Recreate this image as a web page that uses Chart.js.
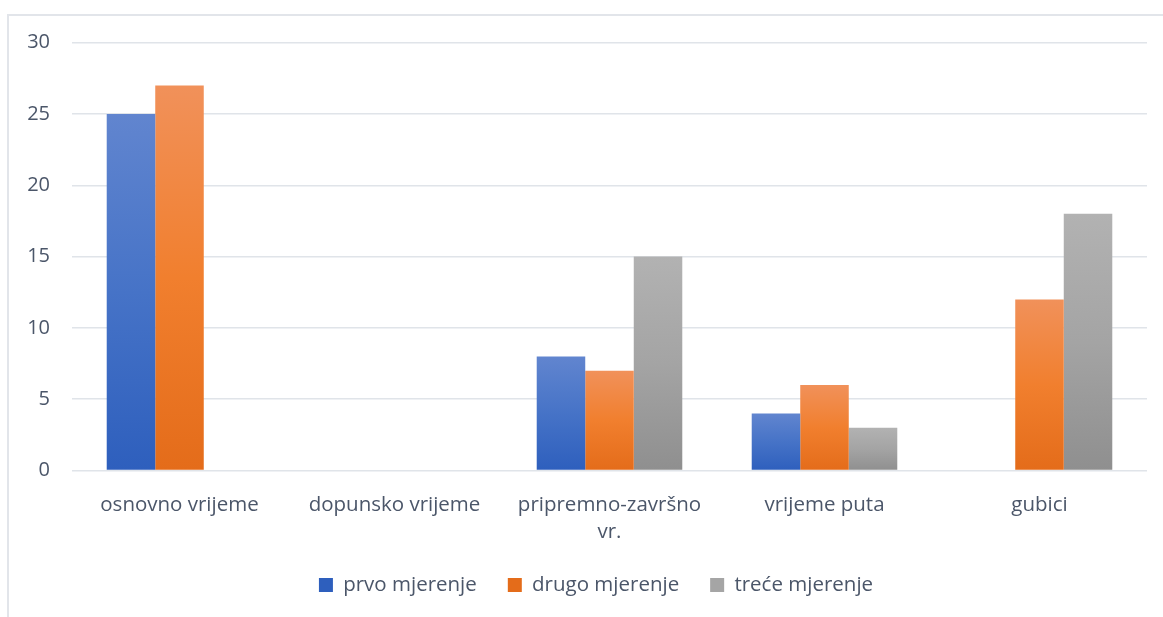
<!DOCTYPE html>
<html>
<head>
<meta charset="utf-8">
<script src="https://cdn.jsdelivr.net/npm/chart.js@4"></script>
<style>
  html, body { margin: 0; padding: 0; background: #ffffff; overflow: hidden; }
  #frame { position: absolute; left: 7px; top: 14px; width: 1300px; height: 800px;
           border-left: 2px solid #e2e5ea; border-top: 2px solid #e2e5ea; }
  #c { position: absolute; left: 0; top: 0; display: block; }
</style>
</head>
<body>
<div id="frame"></div>
<canvas id="c" width="1163" height="617" style="width:1163px;height:617px"></canvas>
<script>
const categories = ['osnovno vrijeme', 'dopunsko vrijeme', ['pripremno-završno', 'vr.'], 'vrijeme puta', 'gubici'];
const seriesNames = ['prvo mjerenje', 'drugo mjerenje', 'treće mjerenje'];
const prvoMjerenje = [25, 0, 8, 4, 0];
const drugoMjerenje = [27, 0, 7, 6, 12];
const treceMjerenje = [0, 0, 15, 3, 18];
const yTicks = [0, 5, 10, 15, 20, 25, 30];

const FONT = "'Open Sans', 'Noto Sans', sans-serif";
const TEXT = '#4b5669';

function gradient(stops, base) {
  return function (ctx) {
    const chart = ctx.chart;
    if (!chart.chartArea || ctx.type !== 'data' || !ctx.raw) return base;
    const y = chart.scales.y;
    const top = y.getPixelForValue(ctx.raw);
    const bottom = y.getPixelForValue(0);
    const g = chart.ctx.createLinearGradient(0, top, 0, bottom);
    g.addColorStop(0, stops[0]);
    g.addColorStop(0.5, stops[1]);
    g.addColorStop(1, stops[2]);
    return g;
  };
}

const blue = gradient(['#6185cf', '#4673c7', '#2e5fbd'], '#4472c4');
const orange = gradient(['#f1915a', '#f17f2e', '#e46c1a'], '#ed7d31');
const gray = gradient(['#b2b2b2', '#a4a4a4', '#8f8f8f'], '#a5a5a5');

new Chart(document.getElementById('c'), {
  type: 'bar',
  data: {
    labels: categories,
    datasets: [
      { label: seriesNames[0], data: prvoMjerenje, backgroundColor: blue, borderWidth: 0 },
      { label: seriesNames[1], data: drugoMjerenje, backgroundColor: orange, borderWidth: 0 },
      { label: seriesNames[2], data: treceMjerenje, backgroundColor: gray, borderWidth: 0 }
    ]
  },
  options: {
    responsive: false,
    animation: false,
    devicePixelRatio: 1,
    datasets: { bar: { categoryPercentage: 0.677, barPercentage: 1.0 } },
    layout: { padding: { left: 23, right: -6, top: 42.7, bottom: 11.75 } },
    plugins: {
      tooltip: { enabled: false },
      legend: {
        position: 'bottom',
        labels: {
          boxWidth: 14, boxHeight: 14, padding: 31,
          color: TEXT,
          font: { family: FONT, size: 20.5 }
        }
      }
    },
    scales: {
      x: {
        grid: { display: false, drawTicks: false },
        border: { display: false },
        ticks: { color: TEXT, padding: 20.3, font: { family: FONT, size: 20.5, lineHeight: 1.356 }, maxRotation: 0, autoSkip: false },
        afterFit: function (s) { s.height = 73.25; }
      },
      y: {
        min: 0, max: 30,
        afterBuildTicks: function (s) { s.ticks = yTicks.map(v => ({ value: v })); },
        grid: { color: '#e0e4e9', lineWidth: 1.5, drawTicks: false },
        border: { display: false },
        ticks: { color: TEXT, padding: 22, font: { family: FONT, size: 20 } },
        afterFit: function (s) { s.width = 49; }
      },
      yRight: {
        position: 'right',
        display: true,
        grid: { display: false, drawTicks: false },
        border: { display: false },
        ticks: { display: false },
        afterFit: function (s) { s.width = 22; }
      }
    }
  }
});
</script>
</body>
</html>
